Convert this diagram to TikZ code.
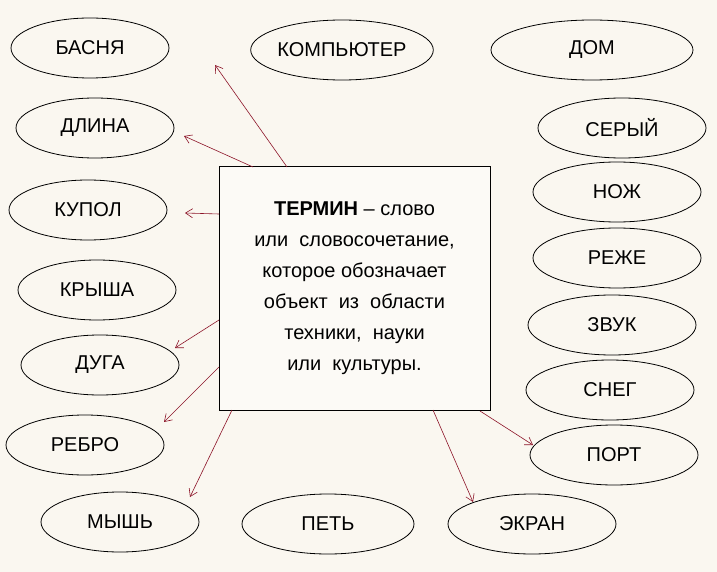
\documentclass[tikz,border=0pt]{standalone}
\usepackage{fontspec}
\setmainfont{Liberation Sans}
\usetikzlibrary{arrows.meta,shapes.geometric}
\definecolor{bg}{RGB}{250,247,240}
\definecolor{boxbg}{RGB}{252,250,246}
\definecolor{arrred}{RGB}{140,20,40}
\begin{document}
\begin{tikzpicture}[x=1pt,y=-1pt,
  ell/.style={draw,ellipse,line width=0.8pt,minimum width=#1,minimum height=60pt,inner sep=0pt,font=\fontsize{20}{22}\selectfont},
  ell/.default=158pt,
  arr/.style={draw=arrred,line width=0.6pt,-{Straight Barb[length=7pt,width=9pt]}}]
\fill[bg] (0,0) rectangle (717,572);
\useasboundingbox (0,0) rectangle (717,572);
\node[ell] (basnya) at (90,48) {БАСНЯ};
\node[ell] (dlina) at (95,128) {ДЛИНА};
\node[ell] (kupol) at (88,210) {КУПОЛ};
\node[ell] (krysha) at (97,290) {КРЫША};
\node[ell] (duga) at (100,365) {ДУГА};
\node[ell] (rebro) at (85,445) {РЕБРО};
\node[ell] (mysh) at (120,522) {МЫШЬ};
\node[ell=178pt] (komp) at (342,50) {КОМПЬЮТЕР};
\node[ell=172pt] (pet) at (328,524) {ПЕТЬ};
\node[ell=202pt] (dom) at (592,50) {ДОМ};
\node[ell=168pt] (sery) at (622,128) {СЕРЫЙ};
\node[ell=168pt] (nozh) at (617,192) {НОЖ};
\node[ell=168pt] (rezhe) at (617,258) {РЕЖЕ};
\node[ell=168pt] (zvuk) at (612,325) {ЗВУК};
\node[ell=168pt] (sneg) at (610,390) {СНЕГ};
\node[ell=168pt] (port) at (614,455) {ПОРТ};
\node[ell=168pt] (ekran) at (532,524) {ЭКРАН};
\node[draw,line width=1pt,fill=boxbg,minimum width=271pt,minimum height=243pt,align=center,font=\fontsize{20}{31}\selectfont] (box) at (354.5,288.5)
 {\textbf{ТЕРМИН} -- слово\\или\ \ словосочетание,\\которое обозначает\\объект\ \ из\ \ области\\техники,\ \ науки\\или\ \ культуры.};
\coordinate (a1) at (287,167);\coordinate (a2) at (253,167);\coordinate (a3) at (219,214);
\coordinate (a4) at (219,320);\coordinate (a5) at (219,367);\coordinate (a6) at (232,410);
\coordinate (a7) at (433,410);\coordinate (a8) at (480,411);
\coordinate (t1) at (215,65);\coordinate (t2) at (184,136);\coordinate (t3) at (185,213);
\coordinate (t4) at (175,348);\coordinate (t5) at (164,422);\coordinate (t6) at (190,497);
\coordinate (t7) at (473,502);\coordinate (t8) at (533,445);
\foreach \i in {1,...,8}{\draw[arr] (a\i) -- (t\i);}
\end{tikzpicture}
\end{document}
